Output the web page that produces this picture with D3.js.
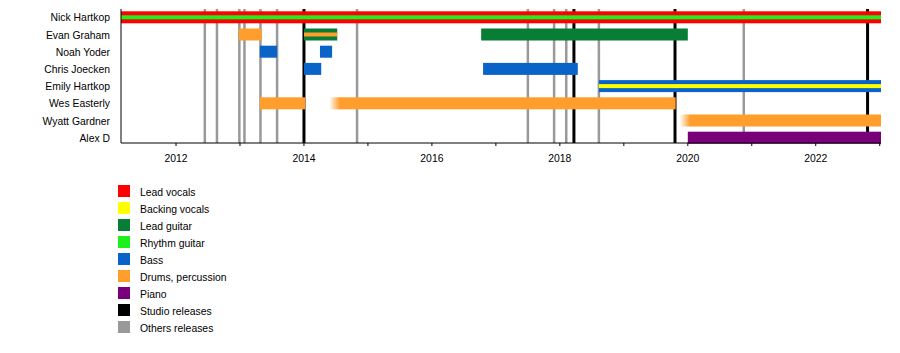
<!DOCTYPE html>
<html>
<head>
<meta charset="utf-8">
<script src="https://cdn.jsdelivr.net/npm/d3@7.9.0/dist/d3.min.js"></script>
<style>
  body { margin: 0; background: #fff; }
  svg { display: block; font-family: "Liberation Sans", Arial, sans-serif; }
  text { font-size: 10.4px; fill: #000; }
</style>
</head>
<body>
<svg id="chart" width="900" height="353"></svg>
<script>
// members, top to bottom
const members = ["Nick Hartkop", "Evan Graham", "Noah Yoder", "Chris Joecken",
  "Emily Hartkop", "Wes Easterly", "Wyatt Gardner", "Alex D"];

// roles and legend colours
const roles = ["Lead vocals", "Backing vocals", "Lead guitar", "Rhythm guitar",
  "Bass", "Drums, percussion", "Piano"];
const roleColors = ["#ff0000", "#ffff00", "#077d35", "#1ef01e", "#0a64c8", "#ff9e2c", "#780078"];

// time span of the chart (decimal years)
const startYear = 2011.14;
const endYear = 2023.02;

// stints: member, main role, from, to, stripe role (or null), fades in
const stints = [
  ["Nick Hartkop", "Lead vocals", 2011.14, 2023.02, "Rhythm guitar", false],
  ["Evan Graham", "Drums, percussion", 2012.98, 2013.34, null, false],
  ["Evan Graham", "Lead guitar", 2014.0, 2014.52, "Drums, percussion", false],
  ["Evan Graham", "Lead guitar", 2016.77, 2020.0, null, false],
  ["Noah Yoder", "Bass", 2013.31, 2013.58, null, false],
  ["Noah Yoder", "Bass", 2014.25, 2014.44, null, false],
  ["Chris Joecken", "Bass", 2014.0, 2014.27, null, false],
  ["Chris Joecken", "Bass", 2016.8, 2018.28, null, false],
  ["Emily Hartkop", "Bass", 2018.61, 2023.02, "Backing vocals", false],
  ["Wes Easterly", "Drums, percussion", 2013.31, 2014.02, null, false],
  ["Wes Easterly", "Drums, percussion", 2014.55, 2019.81, null, true],
  ["Wyatt Gardner", "Drums, percussion", 2020.03, 2023.02, null, true],
  ["Alex D", "Piano", 2020.0, 2023.02, null, false]
];

// release dates
const studioReleases = [2014.0, 2018.22, 2019.8, 2022.81];
const otherReleases = [2012.45, 2012.64, 2012.99, 2013.07, 2013.32, 2013.58,
  2014.83, 2017.5, 2017.91, 2018.1, 2018.61, 2020.875];

const yearTicks = d3.range(2012, 2024);
const labelTicks = [2012, 2014, 2016, 2018, 2020, 2022];

const svg = d3.select("#chart");
const plotLeft = 121, plotRight = 881, plotTop = 10, axisY = 143;

const x = d3.scaleLinear().domain([startYear, endYear]).range([plotLeft, plotRight]);
const y = d3.scalePoint().domain(members).range([17.3, 137.7]);
const color = d3.scaleOrdinal().domain(roles).range(roleColors);

const barH = 12, stripeH = 4, fadeW = 10;

// gradient for fading-in bars
const defs = svg.append("defs");
const grad = defs.append("linearGradient").attr("id", "fade");
grad.append("stop").attr("offset", "0%").attr("stop-color", color("Drums, percussion")).attr("stop-opacity", 0);
grad.append("stop").attr("offset", "100%").attr("stop-color", color("Drums, percussion")).attr("stop-opacity", 1);

// release lines behind bars
svg.append("g").selectAll("line").data(otherReleases).join("line")
  .attr("x1", d => x(d)).attr("x2", d => x(d))
  .attr("y1", plotTop - 1).attr("y2", axisY)
  .attr("stroke", "#999").attr("stroke-width", 2.5);
svg.append("g").selectAll("line").data(studioReleases).join("line")
  .attr("x1", d => x(d)).attr("x2", d => x(d))
  .attr("y1", plotTop - 1).attr("y2", axisY)
  .attr("stroke", "#000").attr("stroke-width", 3);

// bars
const bars = svg.append("g");
stints.forEach(([m, role, from, to, stripe, fade]) => {
  const cy = y(m);
  bars.append("rect")
    .attr("x", x(from)).attr("width", x(to) - x(from))
    .attr("y", cy - barH / 2).attr("height", barH)
    .attr("fill", color(role));
  if (fade) {
    bars.append("rect")
      .attr("x", x(from) - fadeW).attr("width", fadeW + 0.5)
      .attr("y", cy - barH / 2).attr("height", barH)
      .attr("fill", "url(#fade)");
  }
  if (stripe) {
    bars.append("rect")
      .attr("x", x(from)).attr("width", x(to) - x(from))
      .attr("y", cy - stripeH / 2).attr("height", stripeH)
      .attr("fill", color(stripe));
  }
});

// axes
svg.append("line").attr("x1", plotLeft).attr("x2", plotLeft).attr("y1", plotTop - 1).attr("y2", axisY)
  .attr("stroke", "#000").attr("stroke-width", 1);
svg.append("line").attr("x1", plotLeft).attr("x2", plotRight).attr("y1", axisY).attr("y2", axisY)
  .attr("stroke", "#000").attr("stroke-width", 1);
svg.append("g").selectAll("line").data(yearTicks.filter(d => x(d) <= plotRight)).join("line")
  .attr("x1", d => x(d)).attr("x2", d => x(d))
  .attr("y1", axisY).attr("y2", axisY + 3)
  .attr("stroke", "#000");
svg.append("g").selectAll("text").data(labelTicks).join("text")
  .attr("x", d => x(d)).attr("y", 162)
  .attr("text-anchor", "middle")
  .text(d => d);

// member names
svg.append("g").selectAll("text").data(members).join("text")
  .attr("x", 110).attr("y", d => y(d) + 4)
  .attr("text-anchor", "end")
  .text(d => d);

// legend
const legendItems = roles.map((r, i) => ({ label: r, fill: roleColors[i] }))
  .concat([{ label: "Studio releases", fill: "#000" }, { label: "Others releases", fill: "#999" }]);
const lg = svg.append("g").selectAll("g").data(legendItems).join("g")
  .attr("transform", (d, i) => `translate(118, ${185 + i * 17})`);
lg.append("rect").attr("width", 12).attr("height", 12).attr("fill", d => d.fill);
lg.append("text").attr("x", 22).attr("y", 10.5).text(d => d.label);
</script>
</body>
</html>
